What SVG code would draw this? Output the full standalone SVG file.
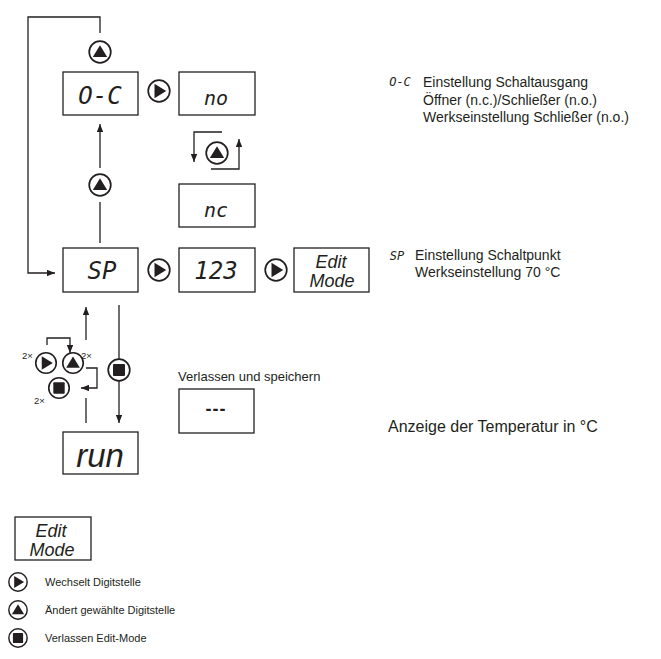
<svg xmlns="http://www.w3.org/2000/svg" xmlns:xlink="http://www.w3.org/1999/xlink" width="661" height="659" viewBox="0 0 661 659">
<style>
.box{fill:#fff;stroke:#231f20;stroke-width:1.3}
.ln{fill:none;stroke:#231f20;stroke-width:1.3}
.seg{font-family:"DejaVu Sans Mono","Liberation Mono",monospace;font-style:oblique;fill:#231f20;text-anchor:middle}
.t{font-family:"Liberation Sans",Arial,sans-serif;fill:#231f20}
.it{font-family:"Liberation Sans",Arial,sans-serif;font-style:italic;fill:#231f20;text-anchor:middle}
</style>
<defs>
<marker id="ah" viewBox="0 0 10 8" refX="10" refY="4" markerWidth="8" markerHeight="6.4" markerUnits="userSpaceOnUse" orient="auto">
<path d="M0,0 L10,4 L0,8 Z" fill="#231f20"/>
</marker>
<g id="bUp"><circle r="10.8" fill="#fff" stroke="#231f20" stroke-width="1.7"/><path d="M0,-6.8 L7.2,5 L-7.2,5 Z" fill="#231f20"/></g>
<g id="bRt"><circle r="10.8" fill="#fff" stroke="#231f20" stroke-width="1.7"/><path d="M-4.5,-7.2 L7.2,0 L-4.5,7.2 Z" fill="#231f20"/></g>
<g id="bSt"><circle r="10.8" fill="#fff" stroke="#231f20" stroke-width="1.7"/><rect x="-6" y="-6" width="12" height="12" rx="1" fill="#231f20"/></g>
</defs>

<g id="connectors">
<path class="ln" d="M100,33 V17 H28 V273 H55" marker-end="url(#ah)"/>
<path class="ln" d="M100,168 V124" marker-end="url(#ah)"/>
<path class="ln" d="M100,202 V243"/>
<path class="ln" d="M222,132 H194 V162" marker-end="url(#ah)"/>
<path class="ln" d="M211,169 H239 V139" marker-end="url(#ah)"/>
<path class="ln" d="M86,340 V307" marker-end="url(#ah)"/>
<path class="ln" d="M119,305 V360"/>
<path class="ln" d="M119,381 V423" marker-end="url(#ah)"/>
<path class="ln" d="M86,398 V423"/>
<path class="ln" d="M47,345 V338 H70 V353" marker-end="url(#ah)"/>
<path class="ln" d="M86,368 H97 V388 H81" marker-end="url(#ah)"/>
</g>

<g id="buttons">
<use xlink:href="#bUp" x="100" y="52"/>
<use xlink:href="#bRt" x="159" y="91"/>
<use xlink:href="#bUp" x="217" y="153"/>
<use xlink:href="#bUp" x="100" y="185"/>
<use xlink:href="#bRt" x="159" y="270"/>
<use xlink:href="#bRt" x="276" y="270"/>
<use xlink:href="#bSt" x="119" y="370"/>
</g>

<g id="cluster">
<use xlink:href="#bRt" x="46" y="363" transform="translate(46 363) scale(0.95) translate(-46 -363)"/>
<use xlink:href="#bUp" x="73" y="363" transform="translate(73 363) scale(0.95) translate(-73 -363)"/>
<use xlink:href="#bSt" x="59" y="388" transform="translate(59 388) scale(0.95) translate(-59 -388)"/>
<text class="t" x="22" y="359" font-size="9.5">2×</text>
<text class="t" x="81" y="359" font-size="9.5">2×</text>
<text class="t" x="34" y="404" font-size="9.5">2×</text>
</g>

<g id="n-oc"><rect class="box" x="63" y="72" width="75" height="43"/><text class="seg" x="100" y="104" font-size="24">O-C</text></g>
<g id="n-no"><rect class="box" x="179" y="72" width="76" height="43"/><text class="seg" x="216" y="105" font-size="20">no</text></g>
<g id="n-nc"><rect class="box" x="179" y="184" width="76" height="43"/><text class="seg" x="216" y="217" font-size="20">nc</text></g>
<g id="n-sp"><rect class="box" x="63" y="248" width="75" height="44"/><text class="seg" x="102" y="279" font-size="24">SP</text></g>
<g id="n-123"><rect class="box" x="179" y="248" width="76" height="44"/><text class="seg" x="216" y="279" font-size="24">123</text></g>
<g id="n-edit"><rect class="box" x="294" y="248" width="75" height="44"/><text class="it" x="331" y="268" font-size="18">Edit</text><text class="it" x="332" y="287" font-size="18">Mode</text></g>
<g id="n-run"><rect class="box" x="63" y="432" width="75" height="42"/><text class="it" x="100" y="467" font-size="33">run</text></g>
<g id="n-save"><text class="t" x="178" y="381" font-size="13">Verlassen und speichern</text><rect class="box" x="179" y="389" width="75" height="44"/><text class="t" x="216" y="415" font-size="18" font-weight="bold" text-anchor="middle" letter-spacing="1">---</text></g>

<g id="desc">
<text class="seg" x="400" y="86" font-size="12">O-C</text>
<text class="t" x="423" y="87" font-size="14">Einstellung Schaltausgang</text>
<text class="t" x="423" y="105" font-size="14">Öffner (n.c.)/Schließer (n.o.)</text>
<text class="t" x="423" y="122" font-size="14">Werkseinstellung Schließer (n.o.)</text>
<text class="seg" x="397" y="260" font-size="12">SP</text>
<text class="t" x="415" y="260" font-size="14">Einstellung Schaltpunkt</text>
<text class="t" x="415" y="277" font-size="14">Werkseinstellung 70 °C</text>
<text class="t" x="388" y="432" font-size="16">Anzeige der Temperatur in °C</text>
</g>

<g id="legend">
<rect class="box" x="15" y="517" width="76" height="43"/>
<text class="it" x="51" y="537" font-size="18">Edit</text>
<text class="it" x="52" y="556" font-size="18">Mode</text>
<use xlink:href="#bRt" x="18" y="582" transform="translate(18 582) scale(0.85) translate(-18 -582)"/>
<text class="t" x="45" y="586" font-size="11">Wechselt Digitstelle</text>
<use xlink:href="#bUp" x="18" y="610" transform="translate(18 610) scale(0.85) translate(-18 -610)"/>
<text class="t" x="45" y="614" font-size="11">Ändert gewählte Digitstelle</text>
<use xlink:href="#bSt" x="18" y="638" transform="translate(18 638) scale(0.85) translate(-18 -638)"/>
<text class="t" x="45" y="642" font-size="11">Verlassen Edit-Mode</text>
</g>
</svg>
